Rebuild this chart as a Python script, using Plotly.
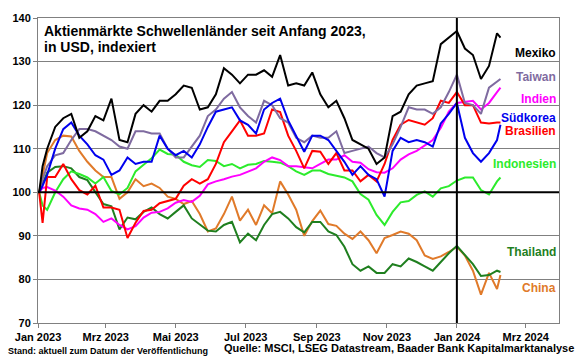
import pandas as pd
import plotly.graph_objects as go

# Dates: Jan 2 2023, Jan 5 2023, then weekly from Jan 9 2023, and final Feb 8 2024
dates = (["2023-01-02", "2023-01-05"]
         + [d.strftime("%Y-%m-%d") for d in pd.date_range("2023-01-09", periods=57, freq="7D")]
         + ["2024-02-08"])

mexiko = [100, 106, 110, 115, 117, 118, 112.5, 114, 117.5, 116.5, 121.5, 112, 111.5, 118, 120, 118.5,
          121, 121, 122.5, 124.5, 124, 119, 119.5, 122.5, 128.5, 127, 125, 127, 127, 128, 126.5,
          131.5, 124.5, 125, 124.5, 127.5, 122.5, 119.5, 121, 117, 112, 111, 110, 106.5, 108, 117.5,
          118.5, 122.5, 124.5, 125, 125.5, 134, 135.5, 137, 133, 131.5, 126, 129, 136.5, 135.5]
taiwan = [100, 103, 106, 108.5, 109, 112, 114.5, 114.5, 114, 113, 112, 110.5, 110, 114, 114, 113.5,
          113.5, 110, 108, 108, 110.5, 113, 117.5, 119, 121.5, 123, 119.5, 117.5, 116, 121, 120,
          117, 116, 112.5, 111.5, 113, 112.5, 112.5, 114, 109, 109.5, 110, 110.5, 109, 108, 111,
          115, 119.5, 119, 119, 118, 119.5, 123, 127, 120.5, 120, 118, 124, 125.5, 126]
indien = [100, 101, 101.2, 100.4, 99, 97, 96.3, 96, 95, 93.2, 94, 92.5, 91.5, 92.2, 94.2, 95.3,
          95.5, 96.3, 97.6, 98.2, 97.8, 99.2, 101.8, 102.5, 103, 103.6, 104, 104.8, 105.5, 107,
          108, 107.4, 106, 106, 105.8, 105.5, 106.5, 107.5, 107.5, 108.5, 107, 106.8, 105.3, 104.6,
          104.5, 105.5, 107.5, 108.7, 109.5, 110.8, 112, 114.8, 118.5, 120.5, 120.7, 121, 119,
          120.5, 123, 124]
suedkorea = [100, 101.5, 104, 110, 114.5, 116, 113, 111, 108.5, 107.5, 104, 105, 108, 106.5, 107,
             107, 113, 110, 108.5, 109.5, 108, 111, 115, 118.5, 119, 119.5, 116.5, 115.5, 113.5,
             119, 120.5, 121.5, 116.5, 113, 109.3, 113, 113, 112, 109.5, 107, 104, 106, 104, 103,
             99, 109.5, 112.5, 111.5, 112, 111.5, 110.5, 115.8, 118, 120.5, 112.5, 109, 107, 109,
             112, 115.5]
brasilien = [100, 93, 103.5, 103.5, 106.5, 103, 100.5, 99.5, 101.5, 96.5, 96.5, 96, 89.5, 93, 95.7,
             96, 97.5, 98, 98.5, 101.5, 103, 102, 103, 106.5, 111.5, 114, 116.5, 113, 113, 113.5,
             119, 118.4, 113, 109.5, 105.5, 109.5, 109.3, 106.5, 109, 105, 105, 102.5, 104, 102.5,
             106.5, 112, 115.5, 116.6, 116, 115.5, 117, 121, 120.5, 123, 120, 120, 116, 115.8, 116,
             116]
indonesien = [100, 97, 96, 100, 103, 104.8, 104.2, 103.4, 102, 103.5, 100.3, 99.5, 101, 104.8,
              106.3, 107.8, 109.8, 108.8, 108.6, 107, 106.2, 105.8, 107.4, 107.2, 106, 106.5, 105.5,
              106.3, 106.5, 107.2, 107, 106.8, 106, 104.8, 104, 105, 105, 104.2, 103.8, 103.4,
              102.5, 99.6, 98.3, 94.8, 92.5, 95.5, 97.7, 98, 99.4, 100.2, 99, 100.9, 101.4, 102.7,
              103.4, 103.4, 100.5, 99.5, 102.5, 103.4]
thailand = [100, 102, 104.5, 105.8, 106, 105.5, 103.5, 102.8, 100, 97.3, 96.8, 91.5, 94.2, 93.8,
            95.5, 96.5, 95, 94, 95.5, 97, 94, 92.5, 91.2, 91, 92.5, 93.2, 88.5, 90.5, 89, 92.5, 95,
            95.5, 94, 92, 90.8, 93.2, 93.2, 91, 90.2, 87.5, 83.5, 82, 83, 81.5, 81.5, 83.5, 83,
            84.8, 84, 83, 82, 84, 86, 87.7, 85.5, 83.5, 80.8, 81, 82, 81.7]
china = [100, 104, 109, 112, 113, 112.8, 109.5, 107, 105, 103.5, 103.5, 98.5, 100, 103, 101.4, 102,
         101, 99, 98.5, 97.3, 98, 95, 91, 91.7, 95, 99, 93.5, 96, 92.5, 97, 95.2, 102.5, 99.5, 96,
         90, 93.4, 95.8, 92.7, 92.3, 90.5, 89.3, 91, 89, 86, 89.5, 90.2, 91, 90.5, 89, 85.5, 84.7,
         85.3, 86.3, 87.5, 85.5, 82, 76.5, 81.5, 77.8, 81]

names = ["China", "Thailand", "Indonesien", "Indien", "Brasilien", "Taiwan", "Südkorea", "Mexiko"]
series = [china, thailand, indonesien, indien, brasilien, taiwan, suedkorea, mexiko]
colors = ["#E07A2A", "#1F7F1F", "#2CEB2C", "#FF00FF", "#FF0000", "#7F6BA0", "#0000EE", "#000000"]

# label positions (y value in axis units) for the right-hand labels
label_y = {"Mexiko": 131.9, "Taiwan": 126.4, "Indien": 121.4, "Südkorea": 117.1,
           "Brasilien": 114.0, "Indonesien": 106.5, "Thailand": 86.4, "China": 78.1}

x_ticks = ["2023-01-01", "2023-03-01", "2023-05-01", "2023-07-01", "2023-09-01",
           "2023-11-01", "2024-01-01", "2024-03-01"]
x_ticktext = ["Jan 2023", "Mrz 2023", "Mai 2023", "Jul 2023", "Sep 2023",
              "Nov 2023", "Jan 2024", "Mrz 2024"]
y_ticks = [70, 80, 90, 100, 110, 120, 130, 140]
marker_date = "2024-01-01"
base_level = 100

FONT = "Liberation Sans, Arial, sans-serif"

fig = go.Figure()
for n, s, c in zip(names, series, colors):
    fig.add_trace(go.Scatter(x=dates, y=s, mode="lines", name=n,
                             line=dict(color=c, width=2), showlegend=False))

fig.add_shape(type="line", xref="paper", yref="y", x0=0, x1=1, y0=base_level, y1=base_level,
              line=dict(color="black", width=2))
fig.add_shape(type="line", xref="x", yref="paper", x0=marker_date, x1=marker_date, y0=0, y1=1,
              line=dict(color="black", width=2))

for n, c in zip(names, colors):
    fig.add_annotation(text="<b>%s</b>" % n, xref="paper", yref="y", x=1, y=label_y[n],
                       xanchor="right", yanchor="middle", showarrow=False, xshift=-1,
                       font=dict(family=FONT, size=12, color=c))

fig.add_annotation(text="<b>Aktienmärkte Schwellenländer seit Anfang 2023,</b>", xref="paper",
                   yref="paper", x=0, y=1, xanchor="left", yanchor="middle", xshift=4, yshift=-13,
                   showarrow=False, font=dict(family=FONT, size=14, color="black"))
fig.add_annotation(text="<b>in USD, indexiert</b>", xref="paper",
                   yref="paper", x=0, y=1, xanchor="left", yanchor="middle", xshift=4, yshift=-29,
                   showarrow=False, font=dict(family=FONT, size=14, color="black"))
fig.add_annotation(text="<b>Stand: aktuell zum Datum der Veröffentlichung</b>", xref="paper",
                   yref="paper", x=0, y=0, xanchor="left", yanchor="middle", xshift=-32, yshift=-28,
                   showarrow=False, font=dict(family=FONT, size=9, color="black"))
fig.add_annotation(text="<b>Quelle: MSCI, LSEG Datastream, Baader Bank Kapitalmarktanalyse</b>",
                   xref="paper", yref="paper", x=1, y=0, xanchor="right", yanchor="middle",
                   xshift=17, yshift=-25, showarrow=False,
                   font=dict(family=FONT, size=11, color="black"))

fig.update_layout(
    width=580, height=358,
    margin=dict(l=34, r=21, t=15, b=35),
    paper_bgcolor="white", plot_bgcolor="white",
    font=dict(family=FONT, size=11, color="black"),
    xaxis=dict(range=["2023-01-01", "2024-03-30"], tickvals=x_ticks, ticktext=x_ticktext,
               showgrid=False, showline=True, linecolor="#808080", linewidth=1, mirror=True,
               ticks="outside", ticklen=4, tickcolor="#808080",
               tickfont=dict(family=FONT, size=11, color="black", weight="bold")),
    yaxis=dict(range=[70, 140], tickvals=y_ticks, showgrid=True, gridcolor="#808080",
               gridwidth=1, showline=True, linecolor="#808080", linewidth=1, mirror=True,
               ticks="outside", ticklen=4, tickcolor="#808080", zeroline=False,
               tickfont=dict(family=FONT, size=11, color="black", weight="bold")),
)

fig.write_html("out.html", config={"displayModeBar": False},
               post_script="document.body.style.margin='0';document.body.style.overflow='hidden';")
